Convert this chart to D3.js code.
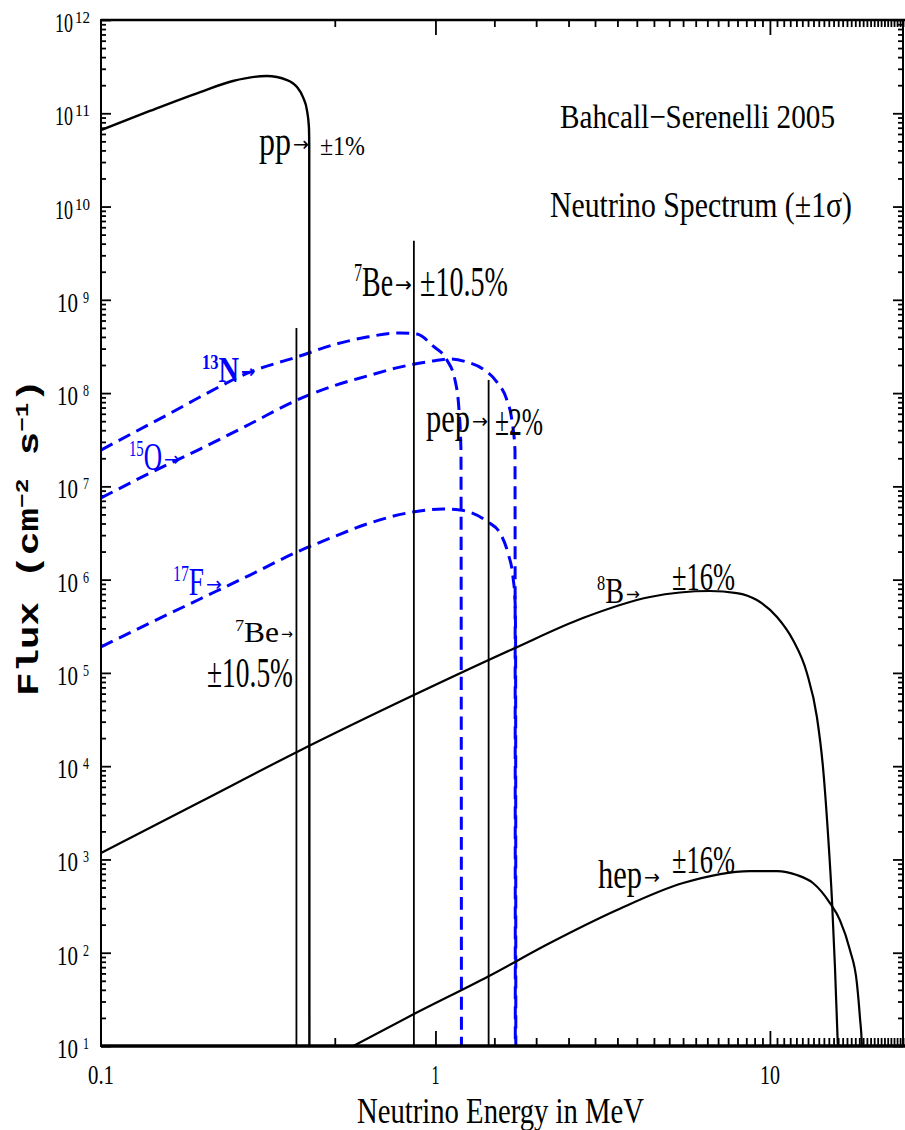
<!DOCTYPE html>
<html>
<head>
<meta charset="utf-8">
<script src="https://cdn.jsdelivr.net/npm/d3@7"></script>
<style>body{margin:0;background:#fff}</style>
</head>
<body>
<svg id="c" width="905" height="1130"></svg>
<script>
// ---------- data (energy in MeV, flux in cm^-2 s^-1 [MeV^-1]) ----------
const ppFlux = [[0.1,6.6e10],[0.14,1.06e11],[0.198,1.69e11],[0.248,2.22e11],[0.313,2.51e11],[0.360,2.27e11],[0.3855,1.91e11],[0.4017,1.49e11],[0.4128,1.08e11],[0.4185,7.1e10],[0.4194,4.6e10],[0.4198,7]];
const n13Flux = [[0.1,2.45e7],[0.1246,3.73e7],[0.1575,5.82e7],[0.1977,9.08e7],[0.2789,1.68e8],[0.3855,2.44e8],[0.494,3.28e8],[0.624,3.99e8],[0.783,4.41e8],[0.880,4.30e8],[0.983,3.2e8],[1.082,2.26e8],[1.144,1.38e8],[1.176,6.6e7],[1.192,2.45e7],[1.196,7]];
const o15Flux = [[0.1,7.5e6],[0.1401,1.39e7],[0.1977,2.51e7],[0.2789,4.66e7],[0.3855,8.43e7],[0.494,1.19e8],[0.624,1.52e8],[0.783,1.90e8],[0.983,2.21e8],[1.105,2.32e8],[1.243,2.15e8],[1.387,1.81e8],[1.527,1.31e8],[1.636,8.4e7],[1.693,5.1e7],[1.729,2.45e7],[1.733,7]];
const f17Flux = [[0.1,1.9e5],[0.1401,3.43e5],[0.1977,6.2e5],[0.2789,1.12e6],[0.3855,1.98e6],[0.494,2.86e6],[0.624,3.95e6],[0.857,5.31e6],[1.053,5.71e6],[1.184,5.57e6],[1.435,4.15e6],[1.559,3.16e6],[1.647,1.93e6],[1.705,1.07e6],[1.7295,6.0e5],[1.736,2.68e5],[1.739,7]];
const b8Flux = [[0.1,1.17e3],[0.1977,4.13e3],[0.3855,1.42e4],[0.862,5.79e4],[1.729,1.85e5],[2.76,3.88e5],[4.38,6.52e5],[6.62,7.55e5],[7.96,7.18e5],[9.14,6.05e5],[10.5,3.97e5],[11.72,2.25e5],[12.9,9.98e4],[13.82,3.37e4],[14.41,9.8e3],[14.91,1.92e3],[15.33,367],[15.65,70],[15.97,9.75],[16.1,5]];
const hepFlux = [[0.518,8.4],[0.862,22],[1.442,56],[2.199,127],[3.49,287],[5.50,559],[8.71,751],[10.5,751],[12.04,681],[13.45,559],[15.12,341],[16.19,224],[17.35,107],[18.2,47.3],[18.58,20.5],[18.84,9.75],[18.9,5]];
const lineNames = ["7Be (0.384)", "7Be (0.862)", "pep"];
const lineEnergies = [0.384, 0.862, 1.442];
const lineFluxes = [5.0e8, 4.3e9, 1.38e8];
const yTickExponents = [1,2,3,4,5,6,7,8,9,10,11,12];
const xTickValues = [0.1, 1, 10];
const xTickLabels = ["0.1", "1", "10"];

// ---------- setup ----------
const svg = d3.select("#c");
const L = 101, R = 903, T = 20, B = 1046;
const x = d3.scaleLog().domain([0.1, 25]).range([L, R]);
const y = d3.scaleLog().domain([10, 1e12]).range([B, T]);
const SERIF = "'Liberation Serif','Times New Roman',serif";

svg.append("defs").append("clipPath").attr("id","plot")
  .append("rect").attr("x",L).attr("y",T).attr("width",R-L).attr("height",B-T);

// ---------- axes ticks ----------
const xt = x.ticks(60);
const yt = y.ticks(200);
const isMajor = v => Math.abs(Math.log10(v) - Math.round(Math.log10(v))) < 1e-9;
const xMin = xt.filter(v => !isMajor(v)), xMaj = xt.filter(isMajor);
const yMin = yt.filter(v => !isMajor(v)), yMaj = yt.filter(isMajor);

function axisG(axis, tr) {
  const g = svg.append("g").attr("transform", tr).call(axis);
  g.select(".domain").remove();
  g.selectAll("line").attr("stroke", "#000").attr("stroke-width", 1.8);
  g.selectAll("text").remove();
  return g;
}
axisG(d3.axisBottom(x).tickValues(xMin).tickSize(-8).tickFormat(""), `translate(0,${B})`);
axisG(d3.axisBottom(x).tickValues(xMaj).tickSize(-15).tickFormat(""), `translate(0,${B})`);
axisG(d3.axisTop(x).tickValues(xMin).tickSize(-7).tickFormat(""), `translate(0,${T})`);
axisG(d3.axisTop(x).tickValues(xMaj).tickSize(-15).tickFormat(""), `translate(0,${T})`);
axisG(d3.axisLeft(y).tickValues(yMin).tickSize(-5).tickFormat(""), `translate(${L},0)`);
axisG(d3.axisLeft(y).tickValues(yMaj).tickSize(-10).tickFormat(""), `translate(${L},0)`);
axisG(d3.axisRight(y).tickValues(yMin).tickSize(-5).tickFormat(""), `translate(${R},0)`);
axisG(d3.axisRight(y).tickValues(yMaj).tickSize(-10).tickFormat(""), `translate(${R},0)`);

// ---------- curves ----------
const plot = svg.append("g").attr("clip-path", "url(#plot)");
const line = d3.line().x(d => x(d[0])).y(d => y(d[1])).curve(d3.curveMonotoneX);

[n13Flux, o15Flux, f17Flux].forEach(s => {
  plot.append("path").attr("d", line(s)).attr("fill","none")
    .attr("stroke","#0000ff").attr("stroke-width",3).attr("stroke-dasharray","13,7");
});
plot.append("path").attr("d", line(ppFlux)).attr("fill","none").attr("stroke","#000").attr("stroke-width",2.4);
plot.append("path").attr("d", line(b8Flux)).attr("fill","none").attr("stroke","#000").attr("stroke-width",2.2);
plot.append("path").attr("d", line(hepFlux)).attr("fill","none").attr("stroke","#000").attr("stroke-width",2.2);
lineEnergies.forEach((e, i) => {
  plot.append("line").attr("x1", x(e)).attr("x2", x(e)).attr("y1", y(lineFluxes[i])).attr("y2", y(10))
    .attr("stroke","#000").attr("stroke-width",1.8).attr("data-name", lineNames[i]);
});

// ---------- frame ----------
const frame = [[L,T,R+2,T,2.6],[L,B,R+2,B,3.3],[L,T-1,L,B+1,2],[R,T-1,R,B+1,2]];
frame.forEach(f => svg.append("line").attr("x1",f[0]).attr("y1",f[1]).attr("x2",f[2]).attr("y2",f[3])
  .attr("stroke","#000").attr("stroke-width",f[4]));

// ---------- text helper ----------
// parts: [kind, string]; an "arrow" part is drawn as its own glyph at the right end.
function label(x0, x1, baseline, fs, parts, color, weight) {
  const hasArrow = parts.some(p => p[0] === "arrow");
  const aw = hasArrow ? Math.round(fs * 0.4) : 0;
  const t = svg.append("text").attr("x", x0).attr("y", baseline)
    .attr("font-family", SERIF).attr("font-size", fs).attr("fill", color || "#000")
    .attr("font-weight", weight || "normal")
    .attr("textLength", x1 - x0 - (hasArrow ? aw + 2 : 0)).attr("lengthAdjust", "spacingAndGlyphs");
  let shift = 0;
  parts.filter(p => p[0] !== "arrow").forEach(([kind, s]) => {
    const target = kind === "sup" ? -fs * 0.36 : 0;
    const size = kind === "sup" ? fs * 0.58 : fs;
    t.append("tspan").attr("dy", target - shift).attr("font-size", size).text(s);
    shift = target;
  });
  if (hasArrow) {
    svg.append("text").attr("x", x1 - aw).attr("y", baseline - fs * 0.1)
      .attr("font-family", "'DejaVu Sans',sans-serif").attr("font-size", fs * 0.5)
      .attr("fill", color || "#000").attr("font-weight", weight === "bold" ? "bold" : "normal")
      .attr("textLength", aw).attr("lengthAdjust", "spacingAndGlyphs").text("→");
  }
  return t;
}

// tick labels
yTickExponents.forEach(e => {
  const yy = y(Math.pow(10, e));
  const big = e >= 10;
  svg.append("text").attr("x", big ? 55 : 57).attr("y", yy + 12).attr("font-family", SERIF)
    .attr("font-size", 27).attr("textLength", big ? 18 : 21).attr("lengthAdjust","spacingAndGlyphs").text("10");
  svg.append("text").attr("x", big ? 75 : 83).attr("y", yy + 3).attr("font-family", SERIF)
    .attr("font-size", 16).attr("textLength", big ? 15 : 6).attr("lengthAdjust","spacingAndGlyphs").text(String(e));
});
xTickValues.forEach((v, i) => {
  const w = xTickLabels[i].length === 3 ? 26 : xTickLabels[i].length === 2 ? 20 : 8;
  svg.append("text").attr("x", x(v) - w / 2).attr("y", 1084).attr("font-family", SERIF)
    .attr("font-size", 27).attr("textLength", w).attr("lengthAdjust","spacingAndGlyphs").text(xTickLabels[i]);
});

// axis titles
label(357, 644, 1123, 36, [["n","Neutrino Energy in MeV"]]);
const yt2 = svg.append("text").attr("transform","translate(38,538) rotate(-90)")
  .attr("x", -158).attr("y", 0)
  .attr("font-family","'Liberation Mono','Courier New',monospace").attr("font-weight","bold")
  .attr("font-size", 29).attr("textLength", 317).attr("lengthAdjust","spacingAndGlyphs");
yt2.append("tspan").text("Flux (cm");
yt2.append("tspan").attr("dy",-10).attr("font-size",18).text("−2");
yt2.append("tspan").attr("dy",10).text(" s");
yt2.append("tspan").attr("dy",-10).attr("font-size",18).text("−1");
yt2.append("tspan").attr("dy",10).text(")");

// titles
label(560, 835, 128, 34, [["n","Bahcall−Serenelli 2005"]]);
label(550, 852, 217, 35, [["n","Neutrino Spectrum (±1σ)"]]);

// annotations
label(259, 309, 155, 40, [["n","pp"],["arrow","→"]]);
label(320, 365, 155, 27, [["n","±1%"]]);
label(354, 412, 296, 42, [["sup","7"],["n","Be"],["arrow","→"]]);
label(420, 508, 296, 42, [["n","±10.5%"]]);
label(426, 488, 432, 40, [["n","pep"],["arrow","→"]]);
label(495, 543, 435, 41, [["n","±2%"]]);
label(597, 640, 603, 35, [["sup","8"],["n","B"],["arrow","→"]]);
label(672, 735, 590, 40, [["n","±16%"]]);
label(598, 660, 888, 40, [["n","hep"],["arrow","→"]]);
label(672, 735, 873, 39, [["n","±16%"]]);
label(235, 293, 642, 30, [["sup","7"],["n","Be"],["arrow","→"]]);
label(207, 293, 687, 42, [["n","±10.5%"]]);
label(202, 255, 382, 36, [["sup","13"],["n","N"],["arrow","→"]], "#0000ff", "bold");
label(129, 180, 470, 40, [["sup","15"],["n","O"],["arrow","→"]], "#0000ff");
label(173, 222, 595, 40, [["sup","17"],["n","F"],["arrow","→"]], "#0000ff");
</script>
</body>
</html>
